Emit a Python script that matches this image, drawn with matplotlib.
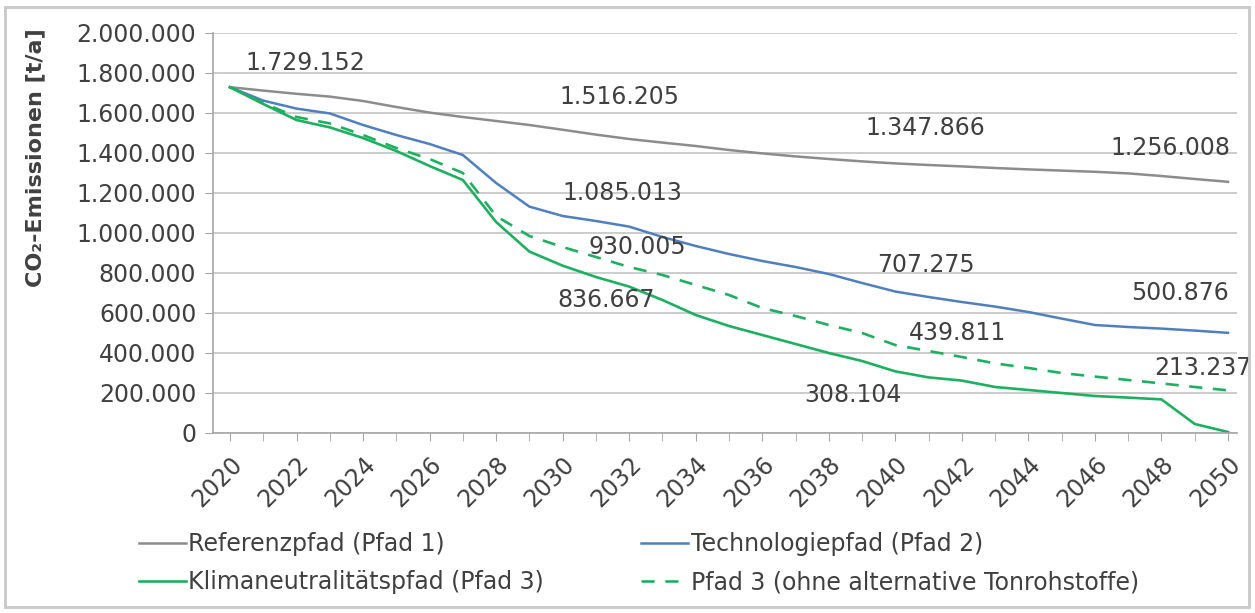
import matplotlib
matplotlib.use('Agg')
import matplotlib.pyplot as plt
from matplotlib.patches import Rectangle
from matplotlib.ticker import FuncFormatter

years = list(range(2020, 2051))

referenz = [1729152, 1712000, 1696000, 1682000, 1660000, 1630000, 1602000, 1580000,
            1560000, 1540000, 1516205, 1492000, 1470000, 1452000, 1435000, 1415000,
            1398000, 1383000, 1370000, 1358000, 1347866, 1340000, 1333000, 1325000,
            1318000, 1312000, 1306000, 1298000, 1285000, 1270000, 1256008]

technologie = [1729152, 1662000, 1622000, 1598000, 1540000, 1490000, 1445000, 1390000,
               1250000, 1132000, 1085013, 1060000, 1032000, 980000, 935000, 895000,
               860000, 830000, 795000, 750000, 707275, 680000, 655000, 632000,
               605000, 572000, 540000, 530000, 522000, 512000, 500876]

klima = [1729152, 1645000, 1565000, 1528000, 1475000, 1410000, 1335000, 1265000,
         1055000, 907000, 836667, 780000, 732000, 665000, 590000, 535000,
         490000, 445000, 400000, 360000, 308104, 278000, 262000, 230000,
         215000, 200000, 185000, 177000, 168000, 45000, 5000]

ohne_alt = [1729152, 1650000, 1580000, 1548000, 1490000, 1425000, 1370000, 1300000,
            1085000, 985000, 930005, 880000, 830000, 790000, 740000, 690000,
            625000, 585000, 540000, 500000, 439811, 410000, 380000, 348000,
            325000, 300000, 282000, 265000, 248000, 230000, 213237]

names = ['Referenzpfad (Pfad 1)', 'Technologiepfad (Pfad 2)',
         'Klimaneutralitätspfad (Pfad 3)', 'Pfad 3 (ohne alternative Tonrohstoffe)']

TXT = '#404040'
GRAY = '#8c8c8c'
BLUE = '#4f7fc0'
GREEN = '#1db060'


def de(v, pos=None):
    return f'{v:,.0f}'.replace(',', '.')


plt.rcParams['font.family'] = 'DejaVu Sans'

fig = plt.figure(figsize=(12.55, 6.13), dpi=100)
ax = fig.add_axes([213 / 1255, 1 - 433 / 613, 1024 / 1255, 400 / 613])

l1, = ax.plot(years, referenz, color=GRAY, lw=1.8)
l2, = ax.plot(years, technologie, color=BLUE, lw=1.8)
l3, = ax.plot(years, klima, color=GREEN, lw=1.9)
l4, = ax.plot(years, ohne_alt, color=GREEN, lw=1.9, ls=(0, (5, 4)))

ax.set_xlim(2019.49, 2050.27)
ax.set_ylim(0, 2000000)
ax.set_yticks(range(0, 2000001, 200000))
ax.yaxis.set_major_formatter(FuncFormatter(de))
ax.set_xticks(years[::2])
ax.set_xticklabels([str(y) for y in years[::2]], rotation=45, ha='right',
                   rotation_mode='anchor')
ax.set_xticks(years, minor=True)
ax.grid(axis='y', color='#c4c4c4', lw=1.2)
ax.set_axisbelow(True)
for s in ['top', 'right']:
    ax.spines[s].set_visible(False)
for s in ['left', 'bottom']:
    ax.spines[s].set_color('#a6a6a6')
    ax.spines[s].set_linewidth(1.2)
ax.tick_params(axis='y', length=6, color='#a6a6a6', labelsize=17, labelcolor=TXT, pad=6)
ax.tick_params(axis='x', which='both', length=6, color='#a6a6a6', labelsize=17,
               labelcolor=TXT, pad=8)

# data labels: series, year, offset of the label centre in pixels
offsets = [
    (referenz, 2020, (75, 24)), (referenz, 2030, (57, 33)),
    (referenz, 2040, (30, 35)), (referenz, 2050, (-58, 34)),
    (technologie, 2030, (60, 23)), (technologie, 2040, (31, 27)),
    (technologie, 2050, (-48, 40)),
    (ohne_alt, 2030, (75, 0)), (ohne_alt, 2040, (62, 12)), (ohne_alt, 2050, (-25, 22)),
    (klima, 2030, (43, -34)), (klima, 2040, (-42, -24)),
]
for ser, yr, off in offsets:
    v = ser[years.index(yr)]
    ax.annotate(de(v), (yr, v), xytext=off, textcoords='offset pixels',
                ha='center', va='center', fontsize=17, color=TXT)

fig.text(35 / 1255, 1 - 28 / 613, 'CO₂-Emissionen [t/a]', rotation=90, va='top',
         ha='center', fontsize=16, fontweight='bold', color=TXT)

fig.legend([l1, l3, l2, l4], [names[0], names[2], names[1], names[3]], ncol=2,
           loc='upper left', bbox_to_anchor=(127 / 1255, 1 - 520 / 613),
           frameon=False, fontsize=17, handlelength=2.0, handletextpad=0.1,
           columnspacing=4.1, labelspacing=0.62, labelcolor=TXT, borderpad=0)

fig.patches.append(Rectangle((5 / 1255, 6 / 613), 1244 / 1255, 600 / 613,
                             transform=fig.transFigure, fill=False,
                             edgecolor='#c8c8c8', lw=2))

fig.savefig('out.png', dpi=100)
